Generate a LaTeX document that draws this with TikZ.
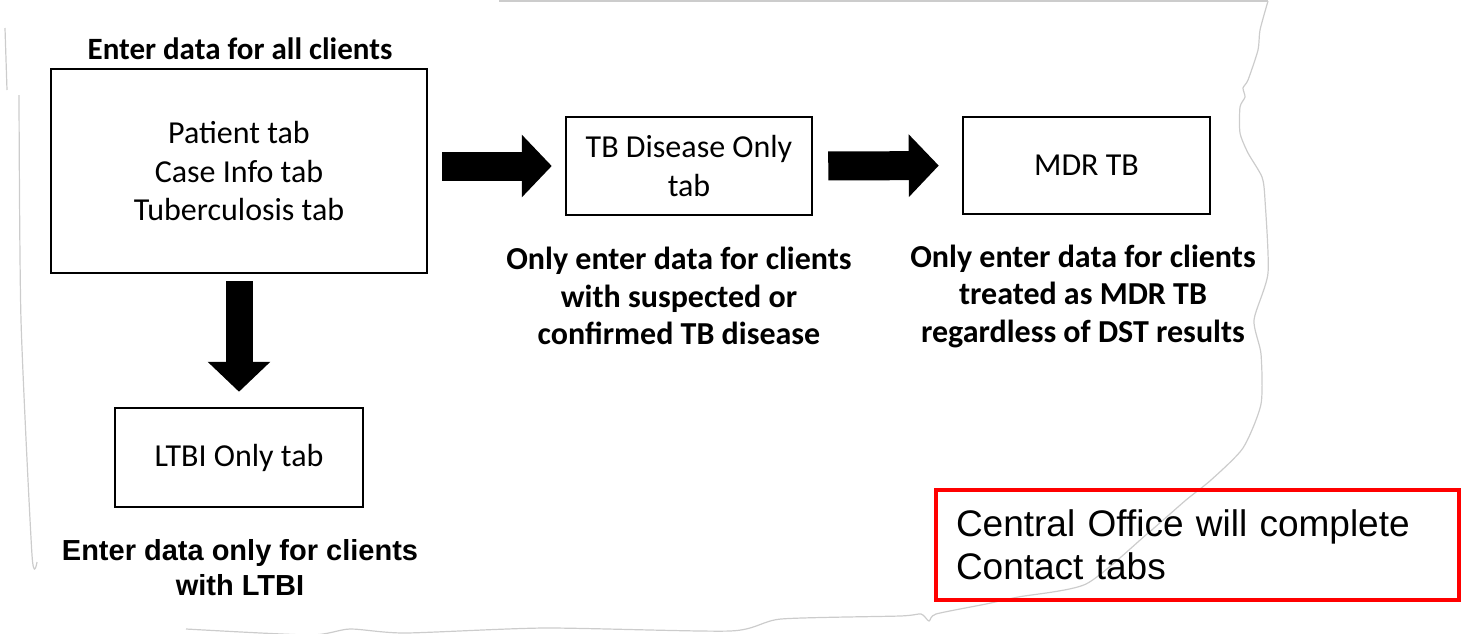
\documentclass[tikz,border=0pt]{standalone}
\usepackage{fontspec}
\setmainfont{Carlito}
\newfontfamily\arialfont{Liberation Sans}
\usetikzlibrary{arrows.meta}

\begin{document}
\begin{tikzpicture}[x=1pt,y=-1pt]
\tikzstyle{tabbox}=[draw=black,line width=2.5pt,align=center,font=\fontsize{32}{38.5}\selectfont]
\tikzstyle{notelabel}=[align=center,font=\fontsize{32}{37.5}\selectfont\bfseries]
\tikzstyle{ltbilabel}=[align=center,font=\arialfont\fontsize{29}{35}\selectfont\bfseries]
\tikzstyle{notebox}=[draw=red,line width=3.5pt,align=left,text width=483pt,inner xsep=20pt,
    minimum height=110pt,font=\arialfont\fontsize{37}{43}\selectfont]
\tikzstyle{bigarrow}=[line width=29pt,-{Triangle[length=30pt,width=61pt]}]
\tikzstyle{tornedge}=[draw=black!20,line width=1.2pt]
    \useasboundingbox (0,0) rectangle (1461,633);
    % torn paper edge
    \draw[tornedge] (499,1) -- (1268,1);
    \draw[tornedge] plot[smooth,tension=0.4] coordinates {(1268,1) (1260,30) (1258,50) (1248,80)
        (1243,88) (1245,97) (1240,107) (1240,133) (1248,153) (1262,177) (1265,200) (1268,273)
        (1254,320) (1261,354) (1261,404) (1243,448) (1211,480) (1186,500) (1147,534) (1086,584)
        (1018,597) (986,604) (936,614) (929,621) (921,614) (900,616) (781,619) (730,631)
        (545,628) (405,633) (350,629) (310,635) (186,629)};
    \draw[tornedge] (5,28) -- (7,90);
    \draw[tornedge] plot[smooth,tension=0.4] coordinates {(19,95) (21,320) (32,555) (37,562)};
    % boxes
    \node[tabbox,minimum width=376pt,minimum height=204pt] (patient) at (239,171)
        {Patient tab\\Case Info tab\\Tuberculosis tab};
    \node[tabbox,minimum width=246pt,minimum height=98pt] (tbonly) at (689,166)
        {TB Disease Only\\tab};
    \node[tabbox,minimum width=247pt,minimum height=97pt] (mdr) at (1086.5,165.5) {MDR TB};
    \node[tabbox,minimum width=248pt,minimum height=99pt] (ltbi) at (239,457.5) {LTBI Only tab};
    % labels
    \node[notelabel,font=\fontsize{31}{37.5}\selectfont\bfseries] (alllbl) at (240,49) {Enter data for all clients};
    \node[notelabel] (tblbl) at (679,296) {Only enter data for clients\\with suspected or\\confirmed TB disease};
    \node[notelabel] (mdrlbl) at (1083,296) {Only enter data for clients\\treated as MDR TB\\regardless of DST results};
    \node[ltbilabel] (ltbilbl) at (240,568) {Enter data only for clients\\with LTBI};
    \node[notebox] (central) at (1197.5,545) {Central Office will complete\\Contact tabs};
    % arrows
    \draw[bigarrow,shorten <=14pt,shorten >=13pt] (patient.east |- tbonly.west) -- (tbonly.west);
    \draw[bigarrow,shorten <=15pt,shorten >=23pt] (tbonly.east) -- (mdr.west);
    \draw[bigarrow,line width=27pt,shorten <=7pt,shorten >=15pt] (patient.south) -- (ltbi.north);
\end{tikzpicture}
\end{document}
